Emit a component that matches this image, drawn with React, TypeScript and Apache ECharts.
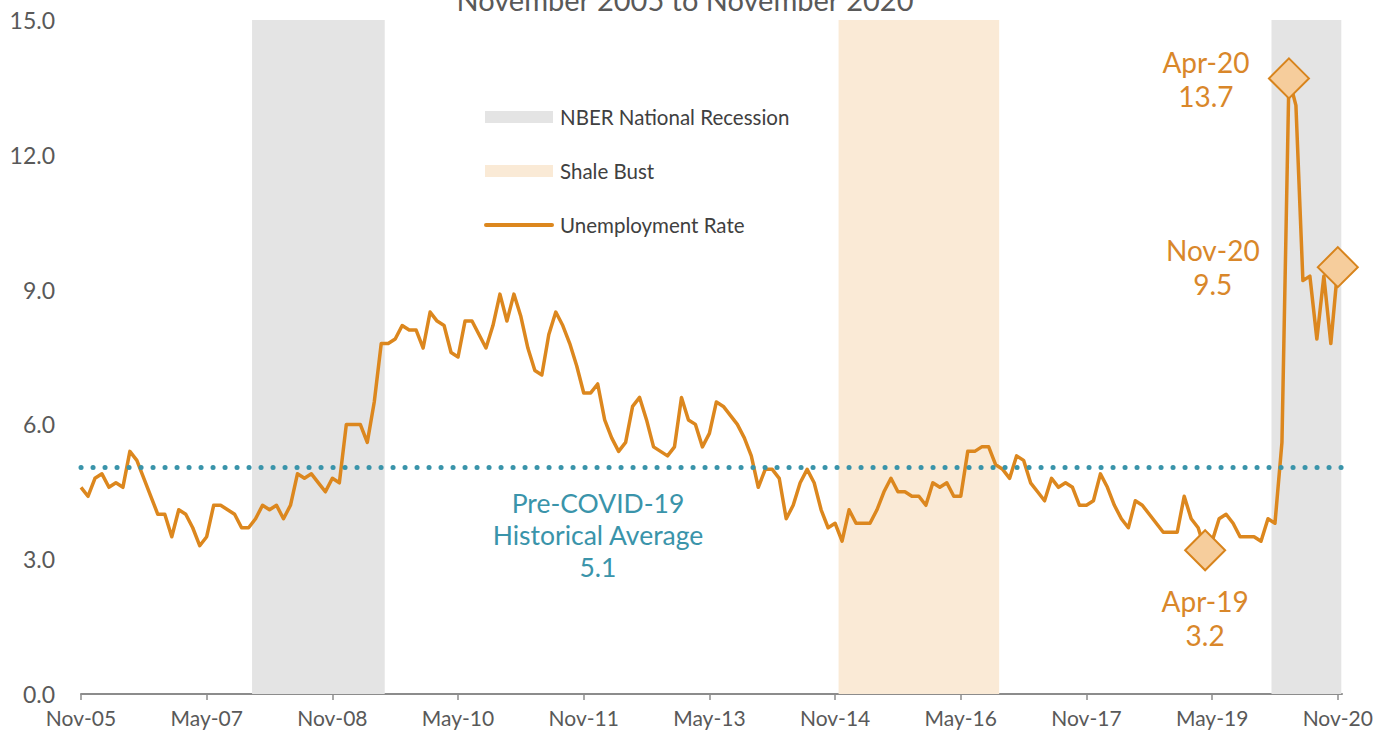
import React, { useEffect, useRef } from "react";
import * as echarts from "echarts";

// Monthly unemployment rate, Nov-2005 (index 0) .. Nov-2020 (index 180)
const rates: number[] = [
  4.6, 4.4, 4.8, 4.9, 4.6, 4.7, 4.6, 5.4, 5.2, 4.8,
  4.4, 4.0, 4.0, 3.5, 4.1, 4.0, 3.7, 3.3, 3.5, 4.2,
  4.2, 4.1, 4.0, 3.7, 3.7, 3.9, 4.2, 4.1, 4.2, 3.9,
  4.2, 4.9, 4.8, 4.9, 4.7, 4.5, 4.8, 4.7, 6.0, 6.0,
  6.0, 5.6, 6.5, 7.8, 7.8, 7.9, 8.2, 8.1, 8.1, 7.7,
  8.5, 8.3, 8.2, 7.6, 7.5, 8.3, 8.3, 8.0, 7.7, 8.2,
  8.9, 8.3, 8.9, 8.4, 7.7, 7.2, 7.1, 8.0, 8.5, 8.2,
  7.8, 7.3, 6.7, 6.7, 6.9, 6.1, 5.7, 5.4, 5.6, 6.4,
  6.6, 6.1, 5.5, 5.4, 5.3, 5.5, 6.6, 6.1, 6.0, 5.5,
  5.8, 6.5, 6.4, 6.2, 6.0, 5.7, 5.3, 4.6, 5.0, 5.0,
  4.8, 3.9, 4.2, 4.7, 5.0, 4.7, 4.1, 3.7, 3.8, 3.4,
  4.1, 3.8, 3.8, 3.8, 4.1, 4.5, 4.8, 4.5, 4.5, 4.4,
  4.4, 4.2, 4.7, 4.6, 4.7, 4.4, 4.4, 5.4, 5.4, 5.5,
  5.5, 5.1, 5.0, 4.8, 5.3, 5.2, 4.7, 4.5, 4.3, 4.8,
  4.6, 4.7, 4.6, 4.2, 4.2, 4.3, 4.9, 4.6, 4.2, 3.9,
  3.7, 4.3, 4.2, 4.0, 3.8, 3.6, 3.6, 3.6, 4.4, 3.9,
  3.7, 3.2, 3.4, 3.9, 4.0, 3.8, 3.5, 3.5, 3.5, 3.4,
  3.9, 3.8, 5.6, 13.7, 13.1, 9.2, 9.3, 7.9, 9.3, 7.8,
  9.5,
];

// x-axis tick labels, every 18 months starting at index 0
const tickLabels: string[] = [
  "Nov-05", "May-07", "Nov-08", "May-10", "Nov-11", "May-13",
  "Nov-14", "May-16", "Nov-17", "May-19", "Nov-20",
];
const tickStep = 18;

// Shaded periods (first and last month index, inclusive)
const recessionPeriods: [number, number][] = [
  [25, 43],
  [171, 180],
];
const shalePeriods: [number, number][] = [[109, 131]];

// Pre-COVID historical average
const historicalAverage = 5.05;
const historicalAverageLabel = "5.1";

// Highlighted months
const highlightIndex: number[] = [173, 180, 161];
const highlightNames: string[] = ["Apr-20", "Nov-20", "Apr-19"];

const FONT = "Lato, 'Noto Sans', sans-serif";
const ORANGE = "#DC871E";
const TEAL = "#3A94AA";
const GRAY_BAND = "#E4E4E4";
const PEACH_BAND = "#FAEAD6";
const TEXT = "#595959";

export default function App() {
  const ref = useRef<HTMLDivElement>(null);

  useEffect(() => {
    if (!ref.current) return;
    const chart = echarts.init(ref.current, undefined, { renderer: "svg" });

    const tickValues = tickLabels.map((_, i) => i * tickStep);
    const lineData = rates.map((v, i) => [i, v]);

    const bandAreas = [
      ...recessionPeriods.map(([s, e]) => [
        { xAxis: s - 0.5, itemStyle: { color: GRAY_BAND } },
        { xAxis: e + 0.5 },
      ]),
      ...shalePeriods.map(([s, e]) => [
        { xAxis: s - 0.5, itemStyle: { color: PEACH_BAND } },
        { xAxis: e + 0.5 },
      ]),
    ];

    const labelOffsets: [number, number][] = [
      [-83, 1],
      [-125, 0],
      [0, 68],
    ];

    const highlightData = highlightIndex.map((idx, k) => ({
      value: [idx, rates[idx]],
      name: highlightNames[k],
      label: {
        show: true,
        position: "inside",
        offset: labelOffsets[k],
        formatter: `${highlightNames[k]}\n${rates[idx].toFixed(1)}`,
      },
    }));

    chart.setOption({
      animation: false,
      backgroundColor: "#ffffff",
      textStyle: { fontFamily: FONT },
      grid: { left: 81, top: 20, width: 1261, height: 674 },
      xAxis: {
        type: "value",
        min: 0,
        max: 180.6,
        axisLine: { show: true, lineStyle: { color: "#8C8C8C", width: 2 } },
        axisTick: {
          show: true,
          length: 6,
          customValues: tickValues,
          lineStyle: { color: "#8C8C8C", width: 1.5 },
        },
        axisLabel: {
          customValues: tickValues,
          formatter: (v: number) => {
            const i = Math.round(v / tickStep);
            return Math.abs(v - i * tickStep) < 1e-6 ? tickLabels[i] ?? "" : "";
          },
          color: TEXT,
          fontSize: 21,
          fontFamily: FONT,
          margin: 13,
        },
        splitLine: { show: false },
      },
      yAxis: {
        type: "value",
        min: 0,
        max: 15,
        interval: 3,
        axisLine: { show: false },
        axisTick: { show: false },
        splitLine: { show: false },
        axisLabel: {
          formatter: (v: number) => v.toFixed(1),
          color: TEXT,
          fontSize: 23,
          fontFamily: FONT,
          margin: 26,
        },
      },
      graphic: [
        {
          type: "text",
          x: 685,
          y: -1,
          style: {
            text: "November 2005 to November 2020",
            fontSize: 29,
            fontFamily: FONT,
            fill: TEXT,
            align: "center",
            verticalAlign: "middle",
          },
        },
        { type: "rect", shape: { x: 485, y: 111, width: 68, height: 12 }, style: { fill: GRAY_BAND } },
        {
          type: "text",
          x: 560,
          y: 117,
          style: { text: "NBER National Recession", fontSize: 20.5, fontFamily: FONT, fill: "#404040", align: "left", verticalAlign: "middle" },
        },
        { type: "rect", shape: { x: 485, y: 165, width: 68, height: 12 }, style: { fill: PEACH_BAND } },
        {
          type: "text",
          x: 560,
          y: 171,
          style: { text: "Shale Bust", fontSize: 20.5, fontFamily: FONT, fill: "#404040", align: "left", verticalAlign: "middle" },
        },
        {
          type: "line",
          shape: { x1: 486, y1: 225, x2: 552, y2: 225 },
          style: { stroke: ORANGE, lineWidth: 4, lineCap: "round" },
        },
        {
          type: "text",
          x: 560,
          y: 225,
          style: { text: "Unemployment Rate", fontSize: 20.5, fontFamily: FONT, fill: "#404040", align: "left", verticalAlign: "middle" },
        },
        {
          type: "text",
          x: 598,
          y: 535,
          style: {
            text: `Pre-COVID-19\nHistorical Average\n${historicalAverageLabel}`,
            fontSize: 26.5,
            lineHeight: 32,
            fontFamily: FONT,
            fill: TEAL,
            align: "center",
            verticalAlign: "middle",
          },
        },
      ],
      series: [
        {
          name: "bands",
          type: "line",
          z: 1,
          data: lineData,
          symbol: "none",
          silent: true,
          lineStyle: { opacity: 0, width: 0 },
          markArea: { silent: true, data: bandAreas },
        },
        {
          name: "Unemployment Rate",
          type: "line",
          z: 3,
          data: lineData,
          symbol: "none",
          lineStyle: { color: ORANGE, width: 3.5, join: "round" },
          markLine: {
            silent: true,
            symbol: ["none", "none"],
            label: { show: false },
            lineStyle: { color: TEAL, width: 5, type: [0.1, 11.9], cap: "round" },
            data: [{ yAxis: historicalAverage }],
          },
        },
        {
          name: "highlights",
          type: "scatter",
          z: 5,
          symbol: "diamond",
          symbolSize: 40,
          itemStyle: { color: "#F6CD9C", borderColor: "#D8841C", borderWidth: 2, opacity: 1 },
          label: {
            color: "#D9872A",
            fontSize: 28,
            lineHeight: 34,
            fontFamily: FONT,
            align: "center",
          },
          data: highlightData,
        },
      ],
    });

    return () => chart.dispose();
  }, []);

  return (
    <div
      ref={ref}
      style={{ position: "absolute", left: 0, top: 0, width: 1400, height: 737 }}
    />
  );
}
